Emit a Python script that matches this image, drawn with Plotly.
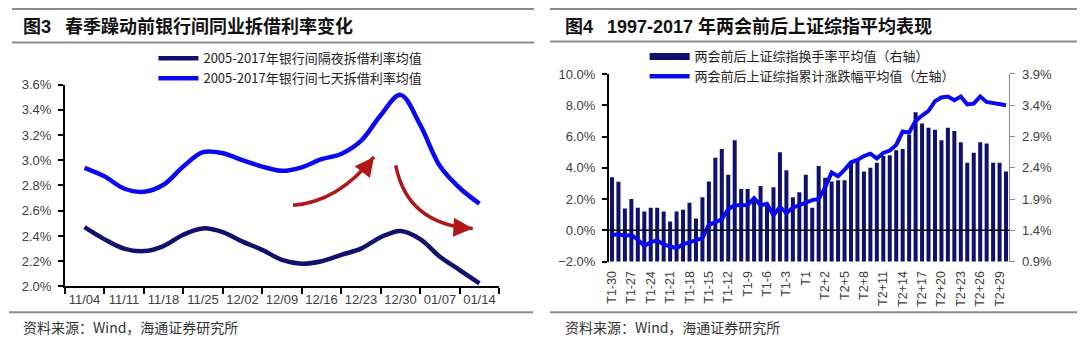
import numpy as np
import plotly.graph_objects as go

W, H = 1080, 349

# ---------------- 图3 data ----------------
week_labels = ["11/04", "11/11", "11/18", "11/25", "12/02", "12/09",
               "12/16", "12/23", "12/30", "01/07", "01/14"]
samples_per_week = 2
overnight_rate = [2.47, 2.375, 2.30, 2.28, 2.32, 2.41, 2.46, 2.43, 2.355, 2.29, 2.21,
                  2.18, 2.20, 2.25, 2.30, 2.39, 2.44, 2.375, 2.235, 2.13, 2.025]
seven_day_rate = [2.94, 2.873, 2.776, 2.75, 2.806, 2.95, 3.064, 3.056, 3.00, 2.95, 2.916,
                  2.944, 3.008, 3.05, 3.153, 3.357, 3.518, 3.28, 2.954, 2.78, 2.656]
name_overnight = "2005-2017年银行间隔夜拆借利率均值"
name_seven = "2005-2017年银行间七天拆借利率均值"

# curved red arrows (week index, rate %)
arrow_up = [(5.28, 2.643), (6.41, 2.666), (7.33, 3.026)]
arrow_down = [(7.88, 2.96), (8.18, 2.49), (9.83, 2.46)]

# ---------------- 图4 data ----------------
day_labels = ([f"T1-{k}" for k in range(30, 0, -1)] + ["T1", "T2"] +
              [f"T2+{k}" for k in range(1, 31)])
turnover = [2.25, 2.175, 1.75, 1.90, 1.76, 1.70, 1.76, 1.76, 1.70, 1.54,
            1.70, 1.73, 1.84, 1.59, 1.93, 2.18, 2.56, 2.70, 2.29, 2.84,
            2.06, 2.06, 1.88, 2.11, 1.80, 2.09, 2.65, 2.36, 1.93, 2.01,
            2.29, 1.76, 2.43, 2.24, 2.18, 2.20, 2.20, 2.48, 2.55, 2.34,
            2.40, 2.48, 2.59, 2.60, 2.68, 2.70, 2.93, 3.29, 3.11, 3.04,
            3.01, 2.84, 3.04, 2.99, 2.81, 2.48, 2.64, 2.81, 2.79, 2.48,
            2.48, 2.34]
cum_return = [-0.3, -0.25, -0.35, -0.3, -0.6, -1.0, -0.75, -0.65, -0.9, -1.0,
              -1.15, -0.9, -0.75, -0.65, -0.5, 0.35, 0.5, 0.7, 1.35, 1.6,
              1.6, 1.62, 2.05, 1.6, 1.7, 0.95, 1.5, 1.1, 1.45, 1.6,
              1.75, 1.93, 2.0, 2.75, 3.7, 3.46, 3.87, 4.35, 4.5, 4.75,
              4.9, 4.6, 4.95, 5.1, 5.46, 6.32, 6.26, 7.0, 7.34, 7.64,
              8.26, 8.5, 8.56, 8.32, 8.56, 8.05, 8.11, 8.56, 8.21, 8.15,
              8.09, 8.0]
name_turnover = "两会前后上证综指换手率平均值（右轴）"
name_cum = "两会前后上证综指累计涨跌幅平均值（左轴）"

NAVY = "#10106e"
BLUE = "#0a0af2"
RED = "#b01818"
RULE = "#8c8c8c"
TICK = "#404040"
LAT = "Liberation Sans, Noto Sans CJK SC, sans-serif"
CJK = "Noto Sans CJK SC, Liberation Sans, sans-serif"

def px_x(p):
    return p / W

def px_y(p):
    return 1 - p / H

# plot areas in pixels
L_X0, L_X1, L_Y0, L_Y1 = 61, 497, 81, 292
R_X0, R_X1, R_Y0, R_Y1 = 607, 1009, 70, 266

fig = go.Figure()

xs = np.arange(len(overnight_rate)) / samples_per_week
fig.add_trace(go.Scatter(x=xs, y=overnight_rate, mode="lines", name=name_overnight,
                         line=dict(color=NAVY, width=4.5, shape="spline", smoothing=1),
                         xaxis="x", yaxis="y", legend="legend"))
fig.add_trace(go.Scatter(x=xs, y=seven_day_rate, mode="lines", name=name_seven,
                         line=dict(color=BLUE, width=4.5, shape="spline", smoothing=1),
                         xaxis="x", yaxis="y", legend="legend"))

# right chart: bars on base axis (right side), line on overlay axis (left side)
fig.add_trace(go.Bar(x=day_labels, y=turnover, marker=dict(color=NAVY, line=dict(width=0)),
                     width=0.62, xaxis="x2", yaxis="y2", showlegend=False, name=name_turnover))
fig.add_trace(go.Scatter(x=day_labels, y=cum_return, mode="lines",
                         line=dict(color=BLUE, width=4), xaxis="x2", yaxis="y3",
                         showlegend=False, name=name_cum))
# legend proxies
fig.add_trace(go.Scatter(x=[None], y=[None], mode="lines", name=name_turnover,
                         line=dict(color=NAVY, width=7), xaxis="x2", yaxis="y3",
                         legend="legend2"))
fig.add_trace(go.Scatter(x=[None], y=[None], mode="lines", name=name_cum,
                         line=dict(color=BLUE, width=4.5), xaxis="x2", yaxis="y3",
                         legend="legend2"))

n_weeks = len(week_labels)
shapes = []
annotations = []

# curved arrows
x_scale = (L_X1 - L_X0) / n_weeks
y_scale = (L_Y1 - L_Y0) / 1.6
for (p0, c, p2) in (arrow_up, arrow_down):
    shapes.append(dict(type="path", xref="x", yref="y",
                       path=f"M {p0[0]},{p0[1]} Q {c[0]},{c[1]} {p2[0]},{p2[1]}",
                       line=dict(color=RED, width=3.5)))
    dx = (p2[0] - c[0]) * x_scale
    dy = -(p2[1] - c[1]) * y_scale
    n = (dx ** 2 + dy ** 2) ** 0.5
    annotations.append(dict(x=p2[0], y=p2[1], xref="x", yref="y", text="",
                            showarrow=True, arrowhead=2, arrowsize=1.1, arrowwidth=3.5,
                            arrowcolor=RED, ax=-dx / n * 8, ay=-dy / n * 8, standoff=0))

# zero line on right chart
shapes.append(dict(type="line", xref="x2 domain", yref="y3", x0=0, x1=1, y0=0, y1=0,
                   line=dict(color="black", width=1.5), layer="above"))

# rules
for (x0, x1, y) in [(8, 532, 2), (8, 532, 37), (5, 531, 319),
                    (548, 1077, 2), (548, 1077, 36), (548, 1077, 319)]:
    shapes.append(dict(type="line", xref="paper", yref="paper",
                       x0=px_x(x0), x1=px_x(x1), y0=px_y(y), y1=px_y(y),
                       line=dict(color=RULE, width=2)))

# titles and sources
annotations += [
    dict(x=px_x(17), y=px_y(20), xref="paper", yref="paper", xanchor="left", yanchor="middle",
         text="<b>图3\u2002 春季躁动前银行间同业拆借利率变化</b>", showarrow=False,
         font=dict(family=LAT, size=18, color="#111111")),
    dict(x=px_x(561), y=px_y(20), xref="paper", yref="paper", xanchor="left", yanchor="middle",
         text="<b>图4\u2002 1997-2017 年两会前后上证综指平均表现</b>", showarrow=False,
         font=dict(family=LAT, size=18, color="#111111")),
    dict(x=px_x(17), y=px_y(334), xref="paper", yref="paper", xanchor="left", yanchor="middle",
         text="资料来源：Wind，海通证券研究所", showarrow=False,
         font=dict(family=CJK, size=14, color="#333333")),
    dict(x=px_x(561), y=px_y(334), xref="paper", yref="paper", xanchor="left", yanchor="middle",
         text="资料来源：Wind，海通证券研究所", showarrow=False,
         font=dict(family=CJK, size=14, color="#333333")),
]

week_pos = np.arange(n_weeks)
fig.update_layout(
    width=W, height=H, autosize=False,
    margin=dict(l=0, r=0, t=0, b=0),
    paper_bgcolor="white", plot_bgcolor="white",
    font=dict(family=LAT, size=12, color=TICK),
    bargap=0.3,
    xaxis=dict(domain=[px_x(L_X0), px_x(L_X1)], range=[-0.5, n_weeks - 0.5],
               tickmode="array", tickvals=week_pos, ticktext=week_labels,
               ticks="", showgrid=False, zeroline=False,
               showline=True, linecolor="black", linewidth=1.5,
               tickfont=dict(family=LAT, size=13, color=TICK),
               minor=dict(tickmode="array", tickvals=np.arange(n_weeks + 1) - 0.5,
                          ticks="outside", ticklen=6, tickcolor="black", tickwidth=1.5),
               anchor="y"),
    yaxis=dict(domain=[px_y(L_Y1), px_y(L_Y0)], range=[2.0, 3.6], dtick=0.2,
               tickformat=".1f", ticksuffix="%", showgrid=False, zeroline=False,
               showline=True, linecolor="black", linewidth=1.5,
               ticks="outside", ticklen=5, tickcolor="black", tickwidth=1.5,
               ticklabelstandoff=4,
               tickfont=dict(family=LAT, size=13, color=TICK), anchor="x"),
    xaxis2=dict(domain=[px_x(R_X0), px_x(R_X1)], type="category",
                tickmode="array", tickvals=day_labels[::3], tickangle=-90,
                ticks="", showgrid=False, zeroline=False, showline=False,
                ticklabelstandoff=6,
                tickfont=dict(family=LAT, size=12.5, color=TICK), anchor="y2"),
    yaxis2=dict(domain=[px_y(R_Y1), px_y(R_Y0)], range=[0.9, 3.9], tick0=0.9, dtick=0.5,
                tickformat=".1f", ticksuffix="%", side="right", anchor="x2",
                showgrid=False, zeroline=False, showline=True, linecolor="#8c8c8c",
                linewidth=1.2, ticks="outside", ticklen=5, tickcolor="#8c8c8c",
                ticklabelstandoff=4,
                tickfont=dict(family=LAT, size=13, color=TICK)),
    yaxis3=dict(range=[-2, 10], dtick=2, tickformat=".1f", ticksuffix="%",
                overlaying="y2", side="left", anchor="x2",
                showgrid=False, zeroline=False, showline=True, linecolor="black",
                linewidth=1.5, ticks="outside", ticklen=5, tickcolor="black", tickwidth=1.5,
                ticklabelstandoff=4,
                tickfont=dict(family=LAT, size=13, color=TICK)),
    legend=dict(x=px_x(150), y=px_y(38), xanchor="left", yanchor="top",
                bgcolor="rgba(0,0,0,0)", borderwidth=0, itemwidth=40,
                font=dict(family=CJK, size=13, color="#222222"), tracegroupgap=0),
    legend2=dict(x=px_x(643), y=px_y(36), xanchor="left", yanchor="top",
                 bgcolor="rgba(0,0,0,0)", borderwidth=0, itemwidth=40,
                 font=dict(family=CJK, size=13, color="#222222"), tracegroupgap=0),
    shapes=shapes,
    annotations=annotations,
    showlegend=True,
)

fig.write_html("out.html", config={"displayModeBar": False})
